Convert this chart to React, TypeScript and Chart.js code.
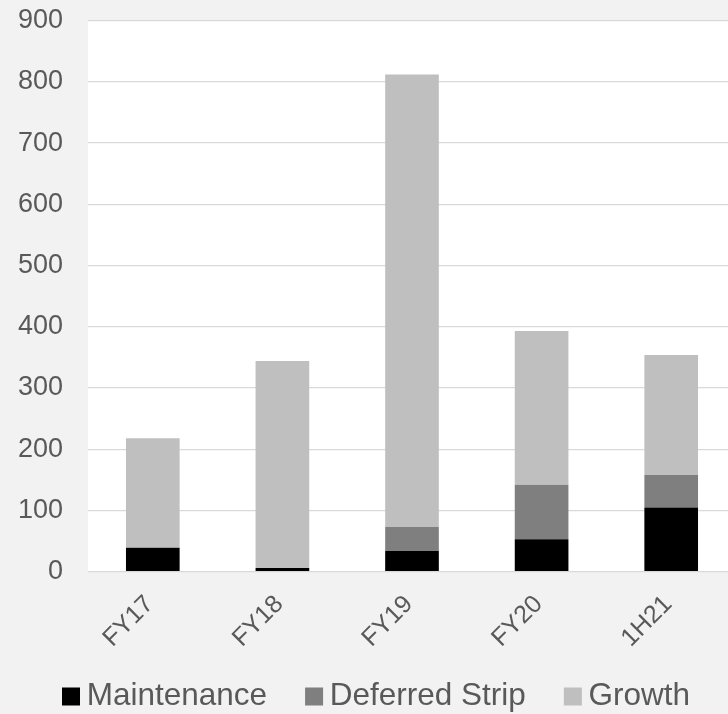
import React, { useEffect, useRef } from 'react';
import { Chart, registerables } from 'chart.js';

Chart.register(...registerables);

const categories = ['FY17', 'FY18', 'FY19', 'FY20', '1H21'];
const maintenance = [39, 6, 34, 53, 105];
const deferredStrip = [0, 0, 39, 89, 53];
const growth = [179, 338, 739, 251, 196];
const seriesNames = ['Maintenance', 'Deferred Strip', 'Growth'];
const seriesColors = ['#000000', '#7f7f7f', '#bfbfbf'];
const yMin = 0;
const yMax = 900;
const yStep = 100;

const FONT = "'Liberation Sans', Arial, sans-serif";
const TEXT = '#595959';
const GRID = '#d9d9d9';

const bgPlugin = {
  id: 'bgPlugin',
  beforeDraw(chart: any) {
    const { ctx, chartArea } = chart;
    ctx.save();
    ctx.fillStyle = '#f2f2f2';
    ctx.fillRect(0, 0, chart.width, chart.height);
    ctx.fillStyle = '#ffffff';
    ctx.fillRect(chartArea.left, chartArea.top, chartArea.right - chartArea.left, chartArea.bottom - chartArea.top);
    ctx.restore();
  },
};

const legendPlugin = {
  id: 'boxLegend',
  afterDraw(chart: any) {
    const ctx = chart.ctx;
    ctx.save();
    ctx.font = `31.5px ${FONT}`;
    ctx.textBaseline = 'middle';
    ctx.textAlign = 'left';
    const cy = 696.5;
    const box = 18;
    let x = 62;
    chart.data.datasets.forEach((ds: any) => {
      ctx.fillStyle = ds.backgroundColor;
      ctx.fillRect(x, cy - box / 2, box, box);
      x += box + 6.7;
      ctx.fillStyle = TEXT;
      ctx.fillText(ds.label, x, cy);
      x += ctx.measureText(ds.label).width + 38;
    });
    ctx.restore();
  },
};

export default function App() {
  const ref = useRef<HTMLCanvasElement | null>(null);

  useEffect(() => {
    if (!ref.current) return;
    const values = [maintenance, deferredStrip, growth];
    const chart = new Chart(ref.current, {
      type: 'bar',
      data: {
        labels: categories,
        datasets: seriesNames.map((name, i) => ({
          label: name,
          data: values[i],
          backgroundColor: seriesColors[i],
          borderWidth: 0,
          barPercentage: 0.414,
          categoryPercentage: 1,
        })),
      },
      options: {
        animation: false,
        responsive: false,
        devicePixelRatio: 1,
        layout: { padding: { left: 0, right: 8, top: 0, bottom: 0 } },
        plugins: {
          tooltip: { enabled: false },
          legend: { display: false },
        },
        scales: {
          x: {
            stacked: true,
            grid: { display: false, drawTicks: false },
            border: { display: false },
            ticks: {
              autoSkip: false,
              minRotation: 45,
              maxRotation: 45,
              padding: 18,
              labelOffset: -3,
              color: TEXT,
              font: { family: FONT, size: 25 },
            },
            afterFit: (s: any) => {
              s.height = 142.3;
            },
          },
          y: {
            stacked: true,
            min: yMin,
            max: yMax,
            ticks: {
              stepSize: yStep,
              padding: 25,
              color: TEXT,
              font: { family: FONT, size: 27 },
            },
            grid: { color: GRID, lineWidth: 1.3, drawTicks: false },
            border: { display: false },
            afterFit: (s: any) => {
              s.width = 88;
              s.paddingTop = 20.7;
            },
          },
        },
      },
      plugins: [bgPlugin, legendPlugin],
    });
    return () => chart.destroy();
  }, []);

  return (
    <div
      style={{
        position: 'absolute',
        left: 0,
        top: 0,
        width: 728,
        height: 714,
        overflow: 'hidden',
        background: '#f2f2f2',
      }}
    >
      <canvas ref={ref} width={744} height={714} style={{ display: 'block' }} />
    </div>
  );
}
